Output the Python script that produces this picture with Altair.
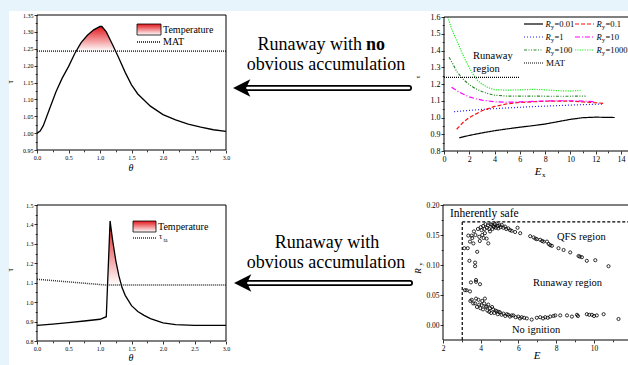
import altair as alt
import pandas as pd

FONT = "Liberation Serif"
W, H = 628, 365
BG = "#e8f4fb"
RED = "#e3161b"

# ---------------- data ----------------
# (a) top-left: runaway with no obvious accumulation
theta_a = [0.0, 0.05, 0.1, 0.2, 0.3, 0.4, 0.5, 0.6, 0.7, 0.8, 0.9, 1.0, 1.03, 1.1, 1.2,
           1.3, 1.4, 1.5, 1.6, 1.8, 2.0, 2.2, 2.4, 2.6, 2.8, 3.0]
tau_a = [1.0, 1.006, 1.022, 1.072, 1.122, 1.163, 1.197, 1.236, 1.268, 1.29, 1.306, 1.316, 1.316,
         1.300, 1.262, 1.222, 1.18, 1.143, 1.116, 1.08, 1.055, 1.039, 1.027, 1.018, 1.01, 1.005]
mat_a = 1.243
cross_a = [0.615, 1.24]

# (b) top-right: tau vs E_x for several R_y
series_b = [
    ("0.01", [1.2, 2.0, 3.0, 4.0, 5.0, 6.0, 7.0, 8.0, 9.0, 10.0, 11.0, 12.0, 13.5],
     [0.879, 0.893, 0.908, 0.921, 0.932, 0.942, 0.951, 0.961, 0.975, 0.989, 0.999, 1.002, 1.0]),
    ("0.1", [1.0, 1.5, 2.0, 3.0, 4.0, 5.0, 6.0, 7.0, 8.0, 9.0, 10.0, 11.0, 12.0, 12.7],
     [0.93, 0.97, 1.0, 1.04, 1.066, 1.082, 1.09, 1.094, 1.097, 1.098, 1.097, 1.093, 1.088, 1.084]),
    ("1", [0.8, 2.0, 3.0, 4.0, 5.0, 6.0, 7.0, 8.0, 9.0, 10.0, 11.0, 12.0, 12.5],
     [1.035, 1.042, 1.048, 1.053, 1.057, 1.061, 1.065, 1.068, 1.071, 1.074, 1.077, 1.079, 1.08]),
    ("10", [0.6, 1.0, 1.5, 2.0, 2.5, 3.0, 4.0, 5.0, 6.0, 7.0, 8.0, 9.0, 10.0, 11.0, 12.0],
     [1.18, 1.16, 1.14, 1.123, 1.112, 1.104, 1.094, 1.091, 1.093, 1.096, 1.099, 1.1, 1.1, 1.098, 1.094]),
    ("100", [0.4, 0.7, 1.0, 1.5, 2.0, 2.5, 3.0, 3.5, 4.0, 5.0, 6.0, 8.0, 10.0, 11.2],
     [1.36, 1.32, 1.275, 1.23, 1.195, 1.172, 1.155, 1.142, 1.133, 1.128, 1.128, 1.127, 1.127, 1.128]),
    ("1000", [0.3, 0.6, 1.0, 1.4, 1.8, 2.2, 2.6, 3.0, 3.5, 4.0, 5.0, 6.0, 7.0, 8.0, 9.0, 10.0, 10.8],
     [1.60, 1.53, 1.46, 1.39, 1.325, 1.27, 1.225, 1.2, 1.178, 1.166, 1.163, 1.165, 1.168, 1.165, 1.16, 1.158, 1.162]),
]
styles_b = {
    "0.01": dict(color="black", dash=[1, 0]),
    "0.1": dict(color="#ff1010", dash=[4, 2]),
    "1": dict(color="#2020ff", dash=[1, 2]),
    "10": dict(color="#ff00ff", dash=[5, 2, 1, 2]),
    "100": dict(color="#2a8a2a", dash=[3, 1.5, 1, 1.5, 1, 1.5]),
    "1000": dict(color="#22ee22", dash=[1.2, 1.2]),
}
mat_b_x = [0, 6]
mat_b = 1.24

# (c) bottom-left: runaway with obvious accumulation
theta_c = [0.0, 0.25, 0.5, 0.75, 1.0, 1.1, 1.16, 1.2, 1.25, 1.3, 1.35, 1.4, 1.5, 1.6, 1.7,
           1.8, 2.0, 2.2, 2.5, 3.0]
tau_c = [0.88, 0.887, 0.895, 0.903, 0.912, 0.925, 1.418, 1.32, 1.215, 1.135, 1.075, 1.035, 0.982,
         0.952, 0.932, 0.915, 0.893, 0.884, 0.88, 0.88]
tta_theta = [0.0, 1.1, 3.0]
tta_tau = [1.118, 1.088, 1.088]
cross_c = [1.12, 1.34]

# (d) bottom-right: R_y vs E boundaries
pts_d = [
    (3.13, 0.128), (3.31, 0.128), (3.34, 0.149), (3.40, 0.107), (3.43, 0.139), (3.52, 0.149),
    (3.55, 0.145), (3.61, 0.136), (3.64, 0.156), (3.70, 0.104), (3.70, 0.098), (3.72, 0.150),
    (3.81, 0.122), (3.85, 0.160), (3.92, 0.147), (3.95, 0.140), (4.00, 0.163), (4.04, 0.158),
    (4.08, 0.150), (4.13, 0.165), (4.15, 0.145), (4.20, 0.160), (4.22, 0.153), (4.25, 0.168),
    (4.31, 0.144), (4.33, 0.162), (4.38, 0.166), (4.40, 0.136), (4.45, 0.160), (4.49, 0.156),
    (4.52, 0.168), (4.58, 0.167), (4.62, 0.160), (4.66, 0.165), (4.70, 0.163), (4.75, 0.168),
    (4.80, 0.162), (4.84, 0.169), (4.90, 0.165), (4.93, 0.161), (5.00, 0.166), (5.05, 0.163),
    (5.11, 0.167), (5.20, 0.162), (5.29, 0.164), (5.35, 0.160), (5.46, 0.161), (5.55, 0.158),
    (5.64, 0.157), (5.82, 0.155), (5.95, 0.162), (6.09, 0.153), (6.62, 0.148), (6.80, 0.146),
    (6.90, 0.144), (6.97, 0.143), (7.15, 0.142), (7.25, 0.140), (7.33, 0.139), (7.51, 0.139),
    (7.60, 0.135), (7.68, 0.133), (7.77, 0.132), (8.12, 0.128), (8.39, 0.125), (8.74, 0.121),
    (9.18, 0.115), (9.25, 0.114), (9.36, 0.113), (9.62, 0.107), (10.07, 0.108), (10.77, 0.098),
    (3.75, 0.075), (3.75, 0.072), (3.48, 0.071), (3.96, 0.068), (3.25, 0.058), (3.43, 0.056),
    (3.16, 0.058), (3.45, 0.040), (3.52, 0.042), (3.60, 0.036), (3.70, 0.036), (3.75, 0.044),
    (3.80, 0.030), (3.88, 0.042), (3.92, 0.034), (3.98, 0.028), (4.04, 0.033), (4.08, 0.040),
    (4.12, 0.026), (4.18, 0.036), (4.22, 0.044), (4.26, 0.030), (4.31, 0.031), (4.35, 0.024),
    (4.40, 0.034), (4.45, 0.022), (4.49, 0.028), (4.55, 0.020), (4.60, 0.030), (4.66, 0.026),
    (4.72, 0.020), (4.78, 0.024), (4.84, 0.023), (4.90, 0.018), (4.95, 0.022), (5.02, 0.021),
    (5.10, 0.017), (5.20, 0.019), (5.30, 0.015), (5.38, 0.018), (5.46, 0.017), (5.55, 0.014),
    (5.64, 0.016), (5.73, 0.016), (5.85, 0.013), (5.99, 0.014), (6.08, 0.011), (6.17, 0.013),
    (6.30, 0.012), (6.44, 0.011), (6.70, 0.009), (6.97, 0.012), (7.15, 0.013), (7.30, 0.011),
    (7.42, 0.013), (7.55, 0.012), (7.68, 0.014), (7.85, 0.015), (7.95, 0.016), (8.21, 0.016),
    (8.57, 0.016), (8.83, 0.014), (9.10, 0.017), (9.15, 0.015), (9.62, 0.018), (9.75, 0.017),
    (9.89, 0.017), (10.00, 0.015), (10.15, 0.016), (10.51, 0.018), (11.30, 0.010),
]
E_d = [p[0] for p in pts_d]
R_d = [p[1] for p in pts_d]
safe_E = 3.02
safe_R = 0.172

# ---------------- layout ----------------
GEOM = {
    "a": dict(xd=[0, 3], xr=[37, 226], yd=[0.95, 1.35], yr=[150, 15]),
    "b": dict(xd=[0, 14.6], xr=[444, 628.6], yd=[0.8, 1.6], yr=[151, 17]),
    "c": dict(xd=[0, 3], xr=[37, 226], yd=[0.8, 1.5], yr=[341, 205]),
    "d": dict(xd=[2, 11.85], xr=[443, 628.9], yd=[-0.025, 0.20], yr=[340, 205]),
}
ONE = pd.DataFrame({"k": [0]})
GRAD = alt.Gradient(gradient="linear",
                    stops=[alt.GradientStop(color="white", offset=0),
                           alt.GradientStop(color=RED, offset=1)],
                    x1=0, x2=0, y1=1, y2=0)


def scl(d, r):
    return alt.Scale(domain=d, range=r, nice=False, zero=False)


def X(field, g, axis=None):
    return alt.X(field, type="quantitative", scale=scl(g["xd"], g["xr"]), axis=axis, title=None)


def Y(field, g, axis=None):
    return alt.Y(field, type="quantitative", scale=scl(g["yd"], g["yr"]), axis=axis, title=None)


def frame(g, xv, xf, yv, yf, fs, minor=False):
    df = pd.DataFrame({"x0": [g["xd"][0]], "x1": [g["xd"][1]],
                       "y0": [g["yd"][0]], "y1": [g["yd"][1]]})
    common = dict(labelFont=FONT, labelFontSize=fs, labelColor="black", tickColor="black",
                  tickWidth=0.8, domain=False, grid=False, labelFlush=False, labelOverlap=False,
                  zindex=2)
    if minor:
        common.update(labels=False, tickSize=1.8)
        xa = alt.Axis(orient="bottom", offset=g["yr"][0] - H, values=xv, **common)
        ya = alt.Axis(orient="left", offset=-g["xr"][0], values=yv, **common)
    else:
        common.update(tickSize=3, labelPadding=1)
        xa = alt.Axis(orient="bottom", offset=g["yr"][0] - H, values=xv, format=xf, **common)
        ya = alt.Axis(orient="left", offset=-g["xr"][0], values=yv, format=yf, **common)
    return alt.Chart(df).mark_rect(fillOpacity=0, stroke="black", strokeWidth=1,
                                   strokeOpacity=0 if minor else 1).encode(
        x=X("x0", g, xa), x2="x1", y=Y("y0", g, ya), y2="y1")


def txt(x, y, s, size, align="left", baseline="middle", style="normal", weight="normal",
        angle=0, color="black"):
    kw = dict(align=align, baseline=baseline, font=FONT, fontSize=size, fontStyle=style,
              fontWeight=weight, color=color)
    if angle:
        kw["angle"] = angle
    return alt.Chart(ONE).mark_text(**kw).encode(x=alt.value(x), y=alt.value(y), text=alt.value(s))


def rule(x1, x2, y1, y2, color="black", width=1.0, dash=None, cap="butt"):
    kw = dict(color=color, strokeWidth=width, strokeCap=cap)
    if dash:
        kw["strokeDash"] = dash
    return alt.Chart(ONE).mark_rule(**kw).encode(
        x=alt.value(x1), x2=alt.value(x2), y=alt.value(y1), y2=alt.value(y2))


def swatch(x1, x2, y1, y2):
    return alt.Chart(ONE).mark_rect(fill=GRAD, stroke="black", strokeWidth=0.8).encode(
        x=alt.value(x1), x2=alt.value(x2), y=alt.value(y1), y2=alt.value(y2))


def arrow(xt, xe, y):
    head = alt.Chart(ONE).mark_point(shape="M -1 0 L 1 -1 L 0.5 0 L 1 1 Z", filled=True,
                                     color="black", opacity=1, size=300).encode(
        x=alt.value(xt + 8.7), y=alt.value(y))
    return [rule(xt + 12, xe, y, y, width=6, cap="round"),
            rule(xt + 14, xe, y, y, color="white", width=2.4, cap="round"),
            head]


def ticks(a, b, step):
    n = int(round((b - a) / step))
    return [round(a + i * step, 4) for i in range(n + 1)]


layers = []
# white card
layers.append(alt.Chart(ONE).mark_rect(color="white").encode(
    x=alt.value(9), x2=alt.value(W + 2), y=alt.value(11), y2=alt.value(H + 2)))

# ---------- panel a ----------
g = GEOM["a"]
df_a = pd.DataFrame({"t": theta_a, "v": tau_a})
fill_rows = [(cross_a[0], mat_a)] + [(t, v) for t, v in zip(theta_a, tau_a) if v > mat_a] + [(cross_a[1], mat_a)]
df_fa = pd.DataFrame({"t": [r[0] for r in fill_rows], "v": [r[1] for r in fill_rows], "m": mat_a})
df_ma = pd.DataFrame({"x0": [0.0], "x1": [3.0], "y": [mat_a]})
layers += [
    alt.Chart(df_fa).mark_area(fill=GRAD).encode(x=X("t", g), y=Y("v", g), y2="m"),
    alt.Chart(df_ma).mark_rule(color="#444", strokeWidth=1.8, strokeDash=[1, 1]).encode(
        x=X("x0", g), x2="x1", y=Y("y", g)),
    alt.Chart(df_a).mark_line(color="black", strokeWidth=1.3).encode(x=X("t", g), y=Y("v", g)),
    frame(g, ticks(0, 3, 0.5), ".1f", ticks(0.95, 1.35, 0.05), ".2f", 6),
    frame(g, ticks(0.25, 2.75, 0.5), "", ticks(0.975, 1.325, 0.05), "", 6, minor=True),
    swatch(137, 161, 24, 35), txt(163, 30, "Temperature", 10),
    rule(137, 161, 42, 42, color="#444", width=1.8, dash=[1, 1]), txt(163, 42, "MAT", 10),
    txt(11, 82, "τ", 8, align="center", angle=270),
    txt(131, 168, "θ", 10, align="center", style="italic"),
]

# ---------- panel b ----------
g = GEOM["b"]
for name, xs, ys in series_b:
    st = styles_b[name]
    dfs = pd.DataFrame({"E": xs, "T": ys})
    layers.append(alt.Chart(dfs).mark_line(color=st["color"], strokeWidth=1.2,
                                           strokeDash=st["dash"]).encode(
        x=X("E", g), y=Y("T", g)))
df_mb = pd.DataFrame({"x0": [mat_b_x[0]], "x1": [mat_b_x[1]], "y": [mat_b]})
layers.append(alt.Chart(df_mb).mark_rule(color="black", strokeWidth=1.2, strokeDash=[1, 1]).encode(
    x=X("x0", g), x2="x1", y=Y("y", g)))
layers.append(frame(g, ticks(0, 14, 2), "d", ticks(0.8, 1.6, 0.1), ".1f", 8))
layers.append(frame(g, ticks(1, 13, 2), "", ticks(0.85, 1.55, 0.1), "", 8, minor=True))


def ry_label(x, y, val, fs=9):
    return [txt(x, y, "R", fs, style="italic"), txt(x + 5.6, y + 2.5, "y", 6),
            txt(x + 9, y, "=" + val, fs)]


leg_pos = [(524, 24), (575, 24), (524, 37), (575, 37), (524, 50), (575, 50)]
for (name, _, _), (lx, ly) in zip(series_b, leg_pos):
    st = styles_b[name]
    layers.append(rule(lx, lx + 19, ly, ly, color=st["color"], width=1.2,
                       dash=st["dash"] if name != "0.01" else None))
    layers += ry_label(lx + 21.5, ly, name, 8.6)
layers += [
    rule(524, 543, 63, 63, width=1.2, dash=[1, 1]), txt(546, 63, "MAT", 9),
    txt(473, 56, "Runaway", 10.5), txt(473, 69, "region", 10.5),
    txt(418, 77, "τ", 7, align="center", angle=270),
    txt(538, 172, "E", 11, align="center", style="italic"), txt(542, 175, "x", 7),
]

# ---------- panel c ----------
g = GEOM["c"]
df_c = pd.DataFrame({"t": theta_c, "v": tau_c})
tta_level = tta_tau[-1]
fill_rows = [(cross_c[0], tta_level)] + [(t, v) for t, v in zip(theta_c, tau_c)
                                         if cross_c[0] < t < cross_c[1] and v > tta_level] + [(cross_c[1], tta_level)]
df_fc = pd.DataFrame({"t": [r[0] for r in fill_rows], "v": [r[1] for r in fill_rows], "m": tta_level})
df_tta = pd.DataFrame({"t": tta_theta, "v": tta_tau})
layers += [
    alt.Chart(df_fc).mark_area(fill=GRAD).encode(x=X("t", g), y=Y("v", g), y2="m"),
    alt.Chart(df_tta).mark_line(color="#333", strokeWidth=1.5, strokeDash=[1, 1]).encode(
        x=X("t", g), y=Y("v", g)),
    alt.Chart(df_c).mark_line(color="black", strokeWidth=1.3).encode(x=X("t", g), y=Y("v", g)),
    frame(g, ticks(0, 3, 0.5), ".1f", ticks(0.8, 1.5, 0.1), ".1f", 6),
    frame(g, ticks(0.25, 2.75, 0.5), "", ticks(0.85, 1.45, 0.1), "", 6, minor=True),
    swatch(133, 156, 221, 232), txt(158, 226.5, "Temperature", 10),
    rule(133, 156, 238, 238, color="#333", width=1.5, dash=[1, 1]),
    txt(159, 237, "τ", 8), txt(163.5, 240, "ta", 5.5),
    txt(11, 270, "τ", 8, align="center", angle=270),
    txt(131, 358, "θ", 10, align="center", style="italic"),
]

# ---------- panel d ----------
g = GEOM["d"]
df_d = pd.DataFrame({"E": E_d, "R": R_d})
df_v = pd.DataFrame({"x": [safe_E], "y0": [g["yd"][0]], "y1": [safe_R]})
df_h = pd.DataFrame({"x0": [safe_E], "x1": [g["xd"][1]], "y": [safe_R]})
layers += [
    alt.Chart(df_v).mark_rule(color="black", strokeWidth=1.2, strokeDash=[3, 2]).encode(
        x=X("x", g), y=Y("y0", g), y2="y1"),
    alt.Chart(df_h).mark_rule(color="black", strokeWidth=1.2, strokeDash=[3, 2]).encode(
        x=X("x0", g), x2="x1", y=Y("y", g)),
    alt.Chart(df_d).mark_point(shape="circle", filled=False, size=10, strokeWidth=0.8,
                               color="black", opacity=1).encode(x=X("E", g), y=Y("R", g)),
    frame(g, ticks(2, 10, 2), "d", ticks(0.0, 0.2, 0.05), ".2f", 7.5),
    frame(g, ticks(3, 11, 2), "", ticks(0.025, 0.175, 0.05), "", 7.5, minor=True),
    txt(450, 214, "Inherently safe", 11.5),
    txt(557, 237, "QFS region", 10.5),
    txt(533, 283, "Runaway region", 10.5),
    txt(512, 330, "No ignition", 10.5),
    txt(418, 271, "R", 9, align="center", style="italic", angle=270),
    txt(421, 264, "y", 6, align="center", angle=270),
    txt(537, 356, "E", 11, align="center", style="italic"),
]

# ---------- middle annotations ----------
layers += [
    txt(362, 45, "Runaway with", 18, align="right"),
    txt(366, 45, "no", 18, weight="bold"),
    txt(326, 65, "obvious accumulation", 18, align="center"),
    txt(327, 243, "Runaway with", 18, align="center"),
    txt(326, 263, "obvious accumulation", 18, align="center"),
]
layers += arrow(233, 409, 88)
layers += arrow(234, 410, 283)

chart = alt.layer(*layers).resolve_scale(x="independent", y="independent").properties(
    width=W, height=H, background=BG, padding=0,
    autosize=alt.AutoSizeParams(type="none"),
).configure_view(strokeWidth=0).configure_axis(grid=False)

chart.save("out.html", embed_options={"renderer": "svg", "actions": False})
